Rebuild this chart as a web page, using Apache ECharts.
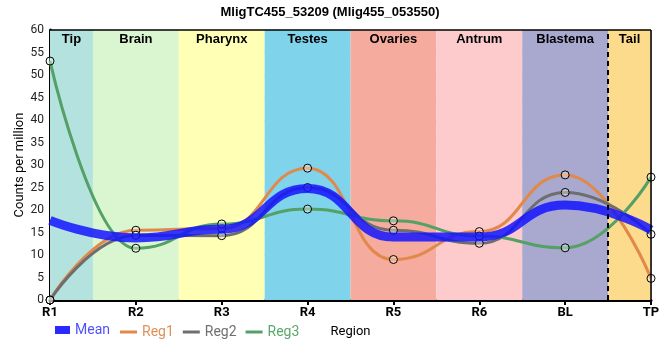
<!DOCTYPE html>
<html><head><meta charset="utf-8">
<script src="https://cdn.jsdelivr.net/npm/echarts@6/dist/echarts.min.js"></script>
<style>html,body{margin:0;padding:0;background:#fff}#c{width:660px;height:360px}</style>
</head><body><div id="c"></div>
<script>
const categories = ['R1','R2','R3','R4','R5','R6','BL','TP'];
const reg1 = [0, 15.5, 15.9, 29.3, 9.0, 15.2, 27.8, 4.8];
const reg2 = [0, 14.4, 14.3, 25.0, 15.5, 12.6, 23.9, 14.6];
const reg3 = [53.1, 11.5, 16.9, 20.2, 17.6, 14.2, 11.6, 27.3];
const meanVals = [17.7, 13.8, 15.7, 24.8, 14.0, 14.0, 21.1, 15.6];
const regionNames = ['Tip','Brain','Pharynx','Testes','Ovaries','Antrum','Blastema','Tail'];
const regionColors = ['#b3e2df','#d9f6d0','#ffffb5','#7fd4eb','#f5ab9e','#fdcbcb','#a9a8cf','#fddb8c'];
const yTicks = {min:0, max:60, interval:5};

const toXY = arr => arr.map((v,i)=>[i,v]);
const bands = regionNames.map((n,i)=>[
  {xAxis: Math.max(0,i-0.5), itemStyle:{color:regionColors[i]}, name:n},
  {xAxis: Math.min(7,i+0.5)}
]);

const chart = echarts.init(document.getElementById('c'));
const ptStyle = {color:'rgba(255,255,255,0.35)', borderColor:'#000', borderWidth:1};
function regSeries(name, data, color){
  return {name, type:'line', data: toXY(data), smooth:0.5, smoothMonotone:'x',
    lineStyle:{color, width:3}, itemStyle:Object.assign({}, ptStyle),
    symbol:'circle', symbolSize:8, showSymbol:true, z:3, color};
}
chart.setOption({
  animation:false,
  title:{text:'MligTC455_53209 (Mlig455_053550)', left:'center', top:1,
    textStyle:{fontSize:13, fontWeight:'bold', color:'#000', fontFamily:'Liberation Sans, Arial'}},
  grid:{left:50, right:9, top:30, bottom:60, outerBoundsMode:'none', containLabel:false},
  legend:[
    {left:55, top:323, padding:0, itemGap:10, itemWidth:15, itemHeight:8,
      textStyle:{fontSize:14, fontFamily:'Roboto'},
      data:[{name:'Mean', icon:'rect', itemStyle:{color:'#2a2aff', opacity:1}, textStyle:{color:'#5050ff'}}]},
    {left:120, top:325, padding:0, itemGap:9, itemWidth:17, itemHeight:3,
      textStyle:{fontSize:14, fontFamily:'Roboto'},
      data:[
        {name:'Reg1', icon:'rect', itemStyle:{color:'#e0894a', borderWidth:0}, textStyle:{color:'#e0905a'}},
        {name:'Reg2', icon:'rect', itemStyle:{color:'#6e6e6e', borderWidth:0}, textStyle:{color:'#707070'}},
        {name:'Reg3', icon:'rect', itemStyle:{color:'#55a064', borderWidth:0}, textStyle:{color:'#5aa86a'}}
      ]}
  ],
  xAxis:{type:'value', min:0, max:7, interval:1,
    name:'Region', nameLocation:'middle', nameGap:25,
    nameTextStyle:{fontSize:13, color:'#000', fontFamily:'Roboto'},
    axisLine:{lineStyle:{color:'#000', width:3}},
    axisTick:{show:true, length:5, lineStyle:{color:'#000', width:2}},
    axisLabel:{formatter:v=>categories[v]||'', fontSize:13, fontWeight:'bold', color:'#000', fontFamily:'Roboto', margin:6},
    splitLine:{show:true, lineStyle:{color:'#c8c8c8', width:1}}},
  yAxis:{type:'value', min:yTicks.min, max:yTicks.max, interval:yTicks.interval,
    name:'Counts per million', nameLocation:'middle', nameGap:24, nameMoveOverlap:false,
    nameTextStyle:{fontSize:13, color:'#000', fontFamily:'Roboto'},
    axisLine:{show:true, lineStyle:{color:'#000', width:3}},
    axisTick:{show:false},
    axisLabel:{fontSize:12, color:'#222', fontFamily:'Roboto', margin:6},
    splitLine:{show:true, lineStyle:{color:'#c8c8c8', width:1}}},
  series:[
    {name:'bg', type:'line', data:[], z:0, silent:true,
      markArea:{silent:true, data:bands,
        label:{show:true, position:'insideTop', distance:3, fontSize:13, fontWeight:'bold', color:'#000', fontFamily:'Liberation Sans, Arial'}},
      markLine:{silent:true, symbol:'none', label:{show:false},
        lineStyle:{color:'#000', width:2, type:[5,4]},
        data:[{xAxis:6.5}]}
    },
    {name:'frame', type:'line', data:[], silent:true, z:1,
      markLine:{silent:true, symbol:'none', label:{show:false},
        lineStyle:{color:'#000', width:1.5, type:'solid'},
        data:[{yAxis:60},{xAxis:7}]}},
    regSeries('Reg1', reg1, '#e0894a'),
    regSeries('Reg2', reg2, '#6e6e6e'),
    regSeries('Reg3', reg3, '#55a064'),
    {name:'Mean', type:'line', data:toXY(meanVals), smooth:0.5, smoothMonotone:'x',
      showSymbol:false, symbol:'none', z:4, color:'#2222ff',
      lineStyle:{color:'rgba(20,20,255,0.85)', width:9}}
  ]
});
</script></body></html>
